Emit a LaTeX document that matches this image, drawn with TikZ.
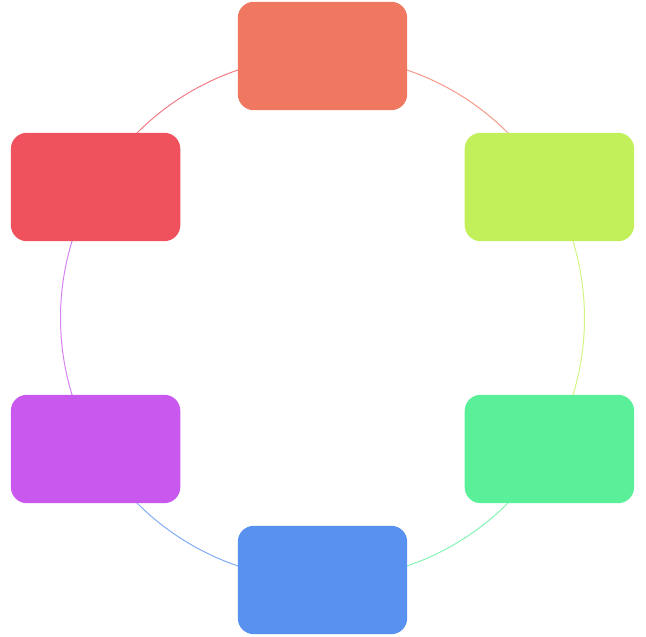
\documentclass[tikz,border=0pt]{standalone}
\usetikzlibrary{calc}
\definecolor{cA}{RGB}{240,120,96}
\definecolor{cB}{RGB}{194,240,90}
\definecolor{cC}{RGB}{90,240,154}
\definecolor{cD}{RGB}{88,145,240}
\definecolor{cE}{RGB}{200,88,238}
\definecolor{cF}{RGB}{239,82,92}
\tikzset{
  card/.style={rectangle, rounded corners=16pt, minimum width=169pt, minimum height=108pt, inner sep=0pt, draw=none},
  ring/.style={line width=1pt, draw opacity=0.75}
}
\begin{document}
\begin{tikzpicture}[x=1pt,y=1pt]
\useasboundingbox (0,0) rectangle (646,637);
\coordinate (o) at (322.5,319);
\node[card] (a) at ($(o)+(90:262)$) {};
\node[card] (b) at ($(o)+(30:262)$) {};
\node[card] (c) at ($(o)+(-30:262)$) {};
\node[card] (d) at ($(o)+(-90:262)$) {};
\node[card] (e) at ($(o)+(-150:262)$) {};
\node[card] (f) at ($(o)+(150:262)$) {};
\draw[ring, cA] (a.center) arc[start angle=90, end angle=30, radius=262];
\draw[ring, cB] (b.center) arc[start angle=30, end angle=-30, radius=262];
\draw[ring, cC] (c.center) arc[start angle=-30, end angle=-90, radius=262];
\draw[ring, cD] (d.center) arc[start angle=-90, end angle=-150, radius=262];
\draw[ring, cE] (e.center) arc[start angle=-150, end angle=-210, radius=262];
\draw[ring, cF] (f.center) arc[start angle=150, end angle=90, radius=262];
\fill[cA, rounded corners=16pt] (a.south west) rectangle (a.north east);
\fill[cB, rounded corners=16pt] (b.south west) rectangle (b.north east);
\fill[cC, rounded corners=16pt] (c.south west) rectangle (c.north east);
\fill[cD, rounded corners=16pt] (d.south west) rectangle (d.north east);
\fill[cE, rounded corners=16pt] (e.south west) rectangle (e.north east);
\fill[cF, rounded corners=16pt] (f.south west) rectangle (f.north east);
\end{tikzpicture}
\end{document}
